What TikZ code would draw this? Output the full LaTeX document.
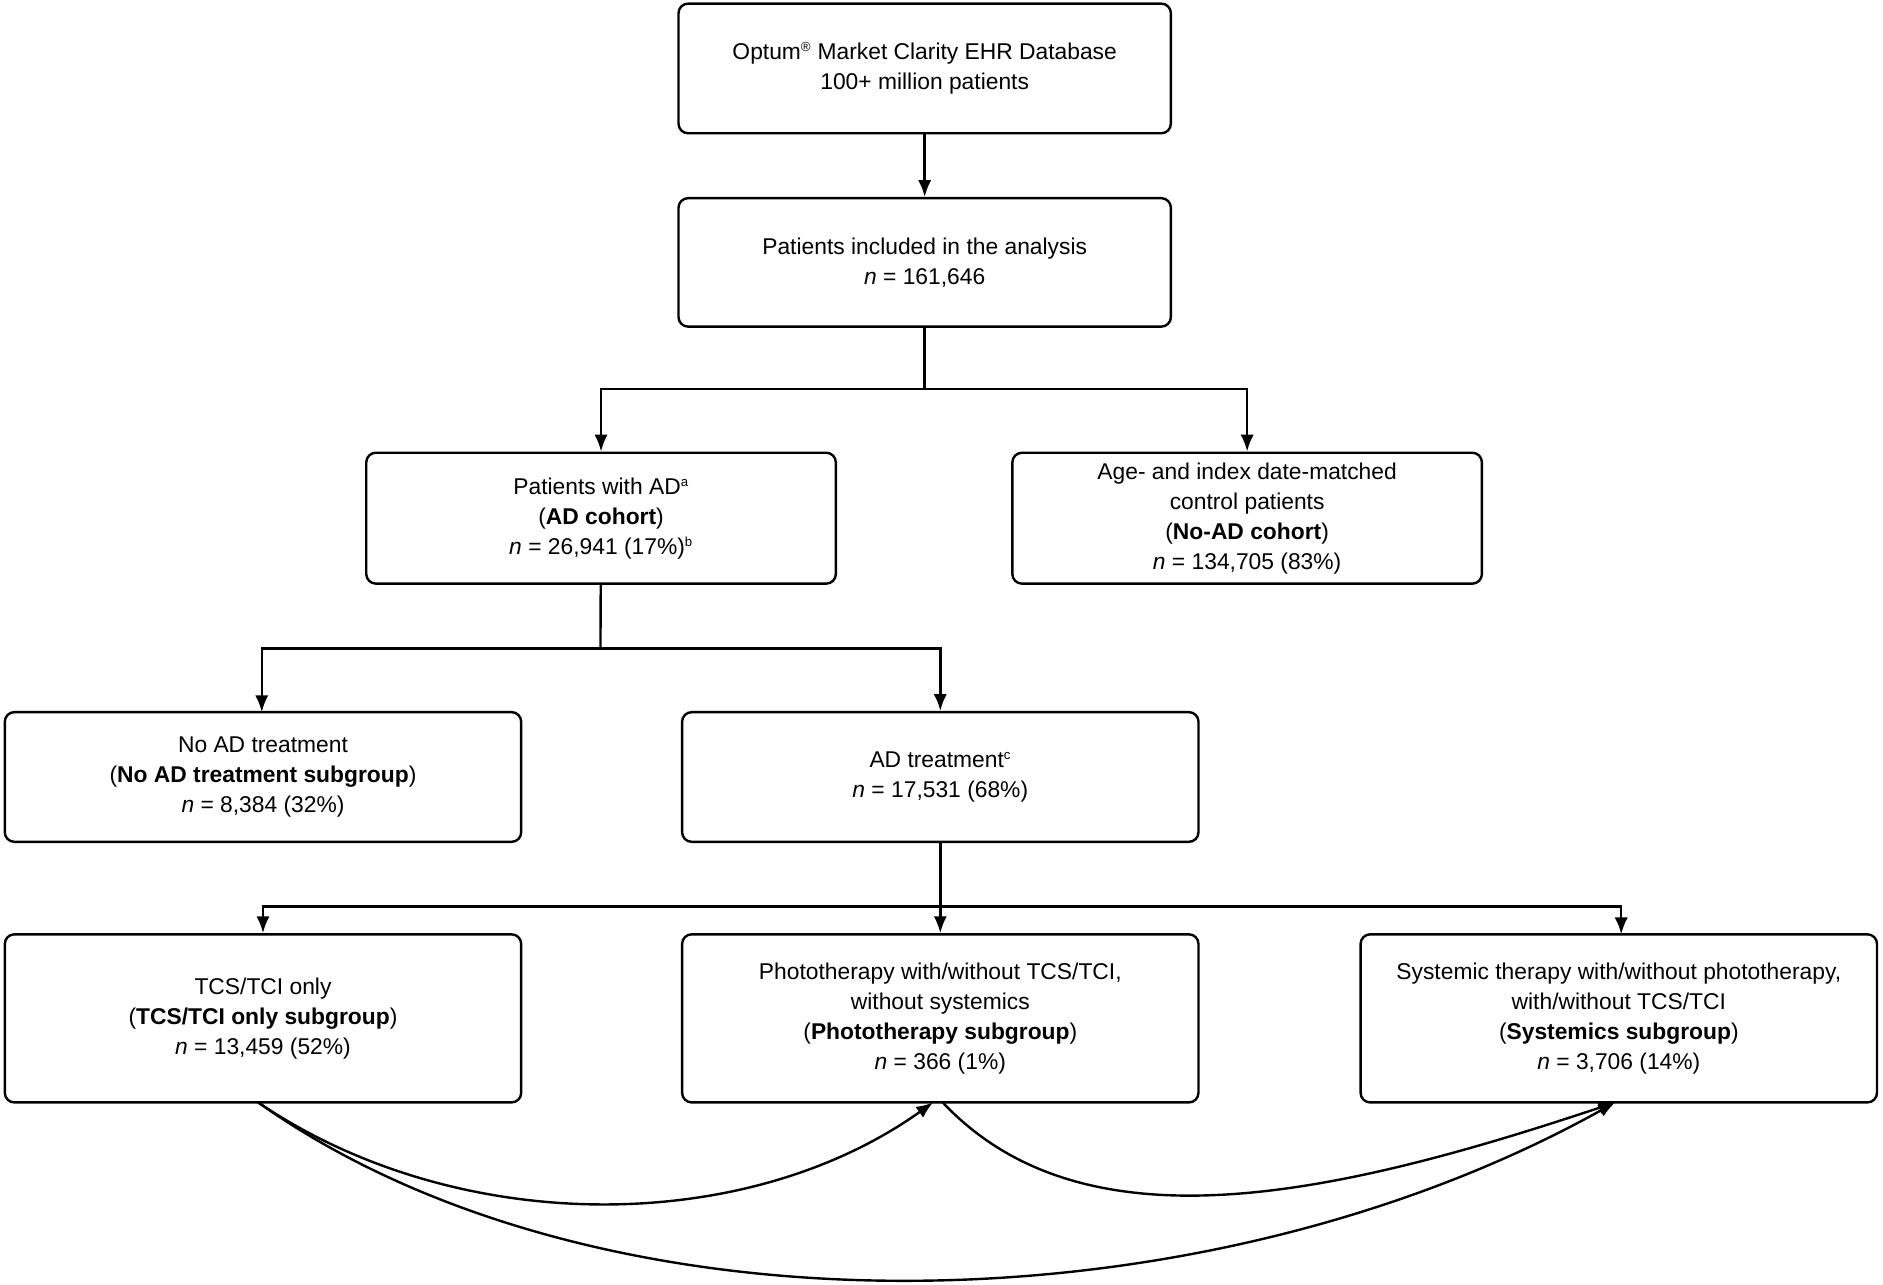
\documentclass[tikz,border=0pt]{standalone}
\usepackage{fontspec}
\setmainfont{Liberation Sans}
\usetikzlibrary{arrows.meta}
\begin{document}
\begin{tikzpicture}[x=1pt,y=-1pt,
 box/.style={draw,line width=2pt,rounded corners=8pt,align=center,font=\fontsize{19}{25}\selectfont,inner sep=0pt},
 ar/.style={line width=2pt,-{Latex[length=14pt,width=11pt]}},
 ln/.style={line width=2pt}]
\useasboundingbox (0,0) rectangle (1568,1070);
\newcommand{\bx}[6]{\node[box,minimum width=#4-#2,minimum height=#5-#3] (#1) at ({(#2+#4)/2},{(#3+#5)/2}) {#6};}
\bx{db}{565}{3}{975}{111}{Optum\textsuperscript{\fontsize{11}{11}\selectfont®} Market Clarity EHR Database\\100+ million patients}
\bx{inc}{565}{165}{975}{272}{Patients included in the analysis\\\textit{n} = 161,646}
\bx{ad}{305}{377}{696}{486}{Patients with AD\textsuperscript{\fontsize{11}{11}\selectfont a}\\(\textbf{AD cohort})\\\textit{n} = 26,941 (17\%)\textsuperscript{\fontsize{11}{11}\selectfont b}}
\bx{noad}{843}{377}{1234}{486}{Age- and index date-matched\\control patients\\(\textbf{No-AD cohort})\\\textit{n} = 134,705 (83\%)}
\bx{notr}{4}{593}{434}{701}{No AD treatment\\(\textbf{No AD treatment subgroup})\\\textit{n} = 8,384 (32\%)}
\bx{tr}{568}{593}{998}{701}{AD treatment\textsuperscript{\fontsize{11}{11}\selectfont c}\\\textit{n} = 17,531 (68\%)}
\bx{tcs}{4}{778}{434}{918}{TCS/TCI only\\(\textbf{TCS/TCI only subgroup})\\\textit{n} = 13,459 (52\%)}
\bx{pho}{568}{778}{998}{918}{Phototherapy with/without TCS/TCI,\\without systemics\\(\textbf{Phototherapy subgroup})\\\textit{n} = 366 (1\%)}
\bx{sys}{1133}{778}{1563}{918}{Systemic therapy with/without phototherapy,\\with/without TCS/TCI\\(\textbf{Systemics subgroup})\\\textit{n} = 3,706 (14\%)}
\draw[ar] (db) -- (inc);
\coordinate (j1) at (770,324);
\draw[ln] (inc) -- (j1);
\draw[ar] (j1) -| (ad.north);
\draw[ar] (j1) -| (noad.north);
\coordinate (j2) at (500,540);
\draw[ln] (ad) -- (j2);
\draw[ar] (j2) -| (218,593);
\draw[ar] (j2) -| (tr.north);
\coordinate (j3) at (783,755);
\draw[ln] (tr) -- (j3);
\draw[ar] (j3) -| (tcs.north);
\draw[ar] (j3) -| (pho.north);
\draw[ar] (j3) -| (1350,778);
\coordinate (t1) at (215,918);
\coordinate (p1) at (777,918);
\coordinate (p2) at (785,918);
\coordinate (s1) at (1345,918);
\draw[ar] (t1) .. controls (380,1030) and (620,1030) .. (p1);
\draw[ar] (p2) .. controls (900,1040) and (1100,1000) .. (s1);
\draw[ar] (t1) .. controls (500,1120) and (1000,1110) .. (s1);
\end{tikzpicture}
\end{document}
